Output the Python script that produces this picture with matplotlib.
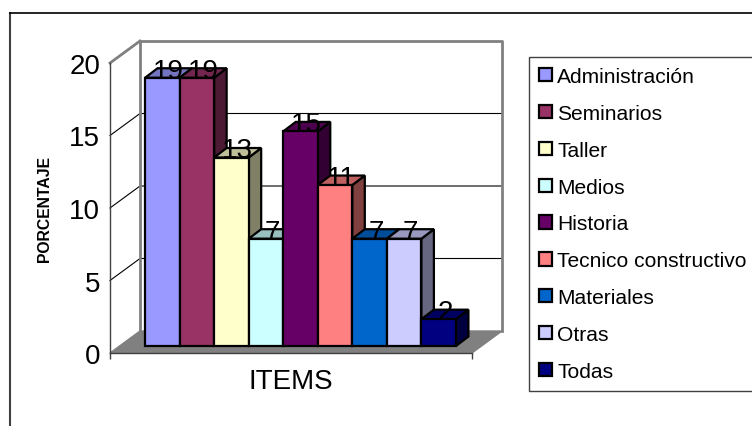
"""
Grafico de barras estilo Excel 3D: porcentaje por item
"""
import matplotlib
matplotlib.use('Agg')
import matplotlib.pyplot as plt
from matplotlib.lines import Line2D
from matplotlib.patches import Patch, Polygon

plt.rcParams['font.family'] = ['Liberation Sans', 'DejaVu Sans']

# datos
items = ['Administración', 'Seminarios', 'Taller', 'Medios', 'Historia',
         'Tecnico constructivo', 'Materiales', 'Otras', 'Todas']
valores = [18.5, 18.5, 13.0, 7.4, 14.8, 11.1, 7.4, 7.4, 1.85]
etiquetas = ['19', '19', '13', '7', '15', '11', '7', '7', '2']
y_ticks = [0, 5, 10, 15, 20]

# colores: frente, lado, arriba
frente = ['#9999FF', '#993366', '#FFFFCC', '#CCFFFF', '#660066',
          '#FF8080', '#0066CC', '#CCCCFF', '#000080']
lado = ['#4D4D80', '#4D1A33', '#808066', '#668080', '#330033',
        '#804040', '#003366', '#666680', '#000040']
arriba = ['#7373BF', '#73264D', '#BFBF99', '#99BFBF', '#4D004D',
          '#BF6060', '#004D99', '#9999BF', '#000060']

W, H = 752, 427
fig = plt.figure(figsize=(W / 100, H / 100), dpi=100, facecolor='white')

# plano frontal del grafico, en pixeles de la imagen
X0, X1, Y0, Y1 = 110, 472, 354, 64
ax = fig.add_axes([X0 / W, 1 - Y0 / H, (X1 - X0) / W, (Y0 - Y1) / H])
ax.patch.set_visible(False)
gap = 0.74
xmin, xmax = -0.5 - gap, len(valores) - 0.5 + gap
ax.set_xlim(xmin, xmax)
ax.set_ylim(0, 20)

# pixeles -> unidades de datos
px = (xmax - xmin) / (X1 - X0)
py = 20 / (Y0 - Y1)
fondo_x, fondo_y = 30 * px, 22 * py      # profundidad de paredes
barra_x, barra_y = 12.5 * px, 9.5 * py   # profundidad de barras
sep_x, sep_y = 9.5 * px, 7 * py          # barra respecto al plano frontal

GRIS = '#808080'


def poly(puntos, z, **kw):
    p = Polygon(puntos, closed=True, clip_on=False, zorder=z, **kw)
    ax.add_patch(p)


# paredes y piso
ymax = y_ticks[-1]
poly([(xmin, 0), (xmin + fondo_x, fondo_y), (xmin + fondo_x, ymax + fondo_y), (xmin, ymax)],
     1, facecolor='white', edgecolor='none')
poly([(xmin, 0), (xmin + fondo_x, fondo_y), (xmax + fondo_x, fondo_y), (xmax, 0)],
     1.5, facecolor=GRIS, edgecolor=GRIS, linewidth=1)

# rejilla sobre las paredes
for t in y_ticks[1:-1]:
    ax.plot([xmin, xmin + fondo_x, xmax + fondo_x], [t, t + fondo_y, t + fondo_y],
            color='black', lw=0.8, clip_on=False, zorder=1.2)

# borde gris de la pared
ax.plot([xmin + fondo_x, xmin + fondo_x, xmax + fondo_x, xmax + fondo_x],
        [fondo_y, ymax + fondo_y, ymax + fondo_y, fondo_y],
        color=GRIS, lw=2, clip_on=False, zorder=1.3)
ax.plot([xmin, xmin + fondo_x], [ymax, ymax + fondo_y], color=GRIS, lw=2,
        clip_on=False, zorder=1.3)

# barras
for i, v in enumerate(valores):
    x_izq = i - 0.5 + sep_x
    x_der = i + 0.5 + sep_x
    base = sep_y
    techo = v + sep_y
    borde = dict(edgecolor='black', linewidth=1.6, joinstyle='miter')
    z = 3 + i * 0.01
    poly([(x_der, base), (x_der + barra_x, base + barra_y),
          (x_der + barra_x, techo + barra_y), (x_der, techo)], z, facecolor=lado[i], **borde)
    poly([(x_izq, techo), (x_izq + barra_x, techo + barra_y),
          (x_der + barra_x, techo + barra_y), (x_der, techo)], z, facecolor=arriba[i], **borde)
    poly([(x_izq, base), (x_der, base), (x_der, techo), (x_izq, techo)],
         5, facecolor=frente[i], **borde)
    ax.text(i + sep_x + barra_x / 2, techo, etiquetas[i], ha='center', va='baseline',
            fontsize=20, color='black', zorder=4, clip_on=False)

# ejes
for s in ['top', 'right']:
    ax.spines[s].set_visible(False)
for s in ['left', 'bottom']:
    ax.spines[s].set_color('#404040')
    ax.spines[s].set_linewidth(1)
ax.set_yticks(y_ticks)
ax.set_xticks([xmin, xmax])
ax.set_xticklabels(['', ''])
ax.tick_params(axis='y', labelsize=20, length=0, pad=7)
ax.tick_params(axis='x', length=4, width=1, color='#404040')
ax.set_xlabel('ITEMS', fontsize=20, va='center')
ax.xaxis.set_label_coords((291 - X0) / (X1 - X0), -(382 - Y0) / (Y0 - Y1))
ax.set_ylabel('PORCENTAJE', fontsize=11.3, fontweight='bold', va='center')
ax.yaxis.set_label_coords(-(110 - 45) / (X1 - X0), (Y0 - 209) / (Y0 - Y1))

# leyenda
handles = [Patch(facecolor=c, edgecolor='black', linewidth=1.6) for c in frente]
fig.legend(handles, items, loc='upper left', bbox_to_anchor=(528.5 / W, 1 - 57.7 / H),
           fontsize=15.1, frameon=True, fancybox=False, edgecolor='#404040', framealpha=1,
           handlelength=0.6, handleheight=0.6, handletextpad=0.27, labelspacing=0.85,
           borderpad=0.5, borderaxespad=0)

# marco exterior: solo arriba e izquierda, se sale de la imagen
fig.add_artist(Line2D([10 / W, 10 / W], [0, 1 - 14 / H], transform=fig.transFigure,
                      color='#404040', lw=1.5))
fig.add_artist(Line2D([10 / W, 1], [1 - 14 / H, 1 - 14 / H], transform=fig.transFigure,
                      color='black', lw=1.2))

fig.savefig('out.png', dpi=100)
